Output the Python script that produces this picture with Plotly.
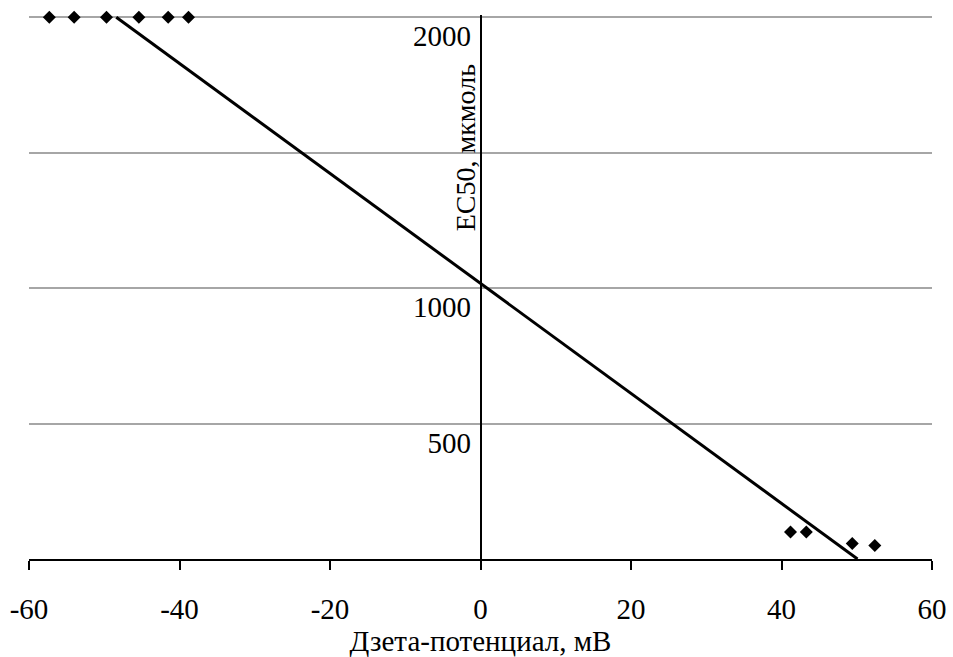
import plotly.graph_objects as go

# Data
zeta_top = [-57.3, -54.0, -49.7, -45.4, -41.5, -38.8]
ec50_top = [2000, 2000, 2000, 2000, 2000, 2000]
zeta_bottom = [41.2, 43.3, 49.4, 52.4]
ec50_bottom = [100, 100, 57, 50]
trend_x = [-48.4, 50.1]
trend_y = [2000, 0]

x_ticks = [-60, -40, -20, 0, 20, 40, 60]
x_ticktext = ["-60", "-40", "-20", "0", "20", "40", "60"]
y_ticks = [0, 500, 1000, 1500, 2000]
y_ticktext = ["", "500", "1000", "", "2000"]

font_family = "Liberation Serif"

fig = go.Figure()
fig.add_trace(go.Scatter(
    x=zeta_top + zeta_bottom, y=ec50_top + ec50_bottom,
    mode="markers", marker=dict(symbol="diamond", size=10, color="black"),
    cliponaxis=False, showlegend=False))
fig.add_trace(go.Scatter(
    x=trend_x, y=trend_y, mode="lines",
    line=dict(color="black", width=3), cliponaxis=False, showlegend=False))

fig.update_layout(
    width=953, height=657,
    margin=dict(l=29, r=21, t=15, b=98),
    paper_bgcolor="white", plot_bgcolor="white",
    font=dict(family=font_family, size=26, color="black"),
    xaxis=dict(
        range=[-60, 60], tickvals=x_ticks, ticktext=x_ticktext,
        showgrid=False, zeroline=False, automargin=False,
        showline=True, linecolor="black", linewidth=1.5,
        ticks="outside", ticklen=9, tickwidth=1.5, tickcolor="black",
        tickfont=dict(size=29), ticklabelstandoff=14,
        title=dict(text="Дзета-потенциал, мВ", standoff=6, font=dict(size=29)),
    ),
    yaxis=dict(
        range=[0, 2008], tickvals=y_ticks, ticktext=y_ticktext,
        showgrid=True, gridcolor="#A6A6A6", gridwidth=1.5,
        zeroline=False, showline=True, linecolor="black", linewidth=1.5,
        anchor="free", position=0.5, ticks="", automargin=False,
        tickfont=dict(size=29),
        ticklabelshift=19, ticklabelstandoff=3,
    ),
    annotations=[dict(
        text="EC50, мкмоль", textangle=-90, xref="paper", yref="paper",
        x=0.5, y=0.755, xanchor="right", yanchor="middle", xshift=2,
        showarrow=False, font=dict(family=font_family, size=28, color="black"))],
)

fig.write_html("out.html")
